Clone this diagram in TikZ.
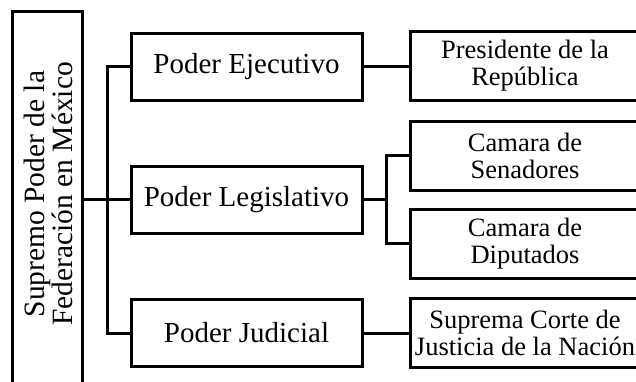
\documentclass[tikz,border=0pt]{standalone}
\usepackage{fontspec}
\setmainfont{Liberation Serif}
\tikzset{
  box/.style={draw, line width=3pt, rectangle, inner sep=0pt, outer sep=0pt, align=center},
  mid/.style={box, minimum width=231pt, minimum height=67pt, font=\fontsize{29}{30}\selectfont},
  leaf/.style={box, minimum width=230pt, minimum height=69pt, font=\fontsize{26.5}{27}\selectfont},
  conn/.style={line width=3pt}
}
\begin{document}
\begin{tikzpicture}[x=1pt,y=1pt]
\useasboundingbox (0,0) rectangle (636,381);
% main box
\node[box, minimum width=70pt, minimum height=388pt] (sup) at (47.5,175) {};
\node[rotate=90, align=center, font=\fontsize{29.5}{28}\selectfont] (suptxt) at (48,187)
  {Supremo Poder de la\\Federación en México};
% middle column
\node[mid] (eje) at (246.5,314) {Poder Ejecutivo};
\node[mid] (leg) at (246.5,181.5) {Poder Legislativo};
\node[mid] (jud) at (246.5,48) {Poder Judicial};
% right column
\node[leaf] (pre) at (525,315) {Presidente de la\\República};
\node[leaf] (sen) at (525,225.5) {Camara de\\Senadores};
\node[leaf] (dip) at (525,137.5) {Camara de\\Diputados};
\node[leaf] (scj) at (525,48) {Suprema Corte de\\Justicia de la Nación};
% connectors
\draw[conn] (leg.west) -- (leg.west -| sup.east);
\draw[conn] (eje.west) -- ++(-24,0) |- (jud.west);
\draw[conn] (eje.east) -- (eje.east -| pre.west);
\draw[conn] (leg.east) -- ++(24,0) coordinate (busL);
\draw[conn] (sen.west) -| (busL) |- (dip.west);
\draw[conn] (jud.east) -- (jud.east -| scj.west);
\end{tikzpicture}
\end{document}
